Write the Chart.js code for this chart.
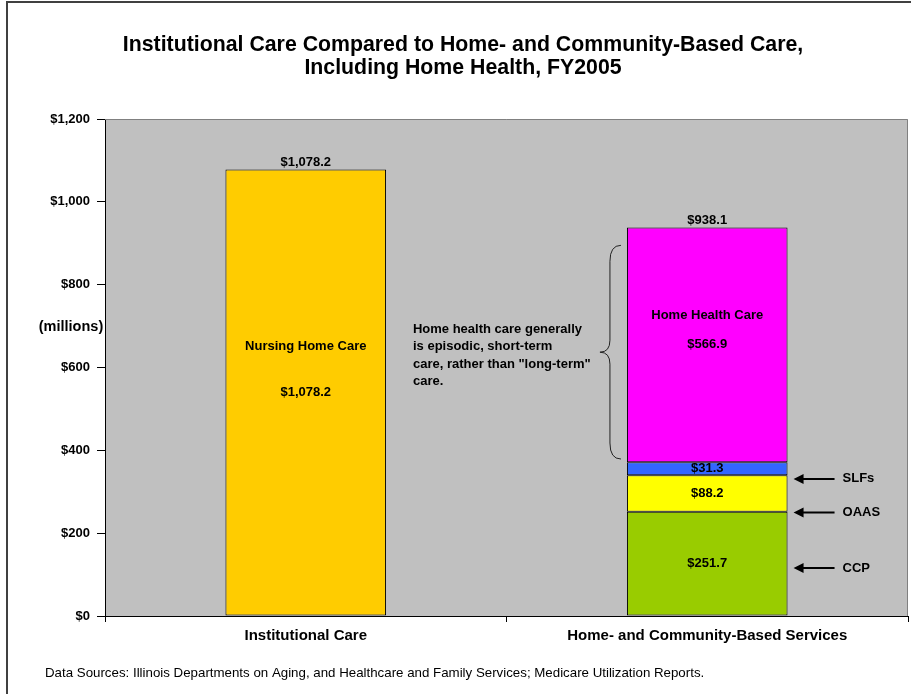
<!DOCTYPE html>
<html>
<head>
<meta charset="utf-8">
<script src="https://cdn.jsdelivr.net/npm/chart.js@4"></script>
<style>
  html, body { margin: 0; padding: 0; background: #fff; }
  #wrap { width: 911px; height: 694px; }
</style>
</head>
<body>
<div id="wrap"><canvas id="chart" width="911" height="694"></canvas></div>
<script>
// FY2005 spending, millions of dollars
var categories = ['Institutional Care', 'Home- and Community-Based Services'];
var nursingHome = [1078.2, null];
var ccp        = [null, 251.7];
var oaas       = [null, 88.2];
var slfs       = [null, 31.3];
var homeHealth = [null, 566.9];
var yTicks = [0, 200, 400, 600, 800, 1000, 1200];

var titleLines = ['Institutional Care Compared to Home- and Community-Based Care,',
                  'Including Home Health, FY2005'];
var noteLines = ['Home health care generally', 'is episodic, short-term',
                 'care, rather than "long-term"', 'care.'];
var sourceText = 'Data Sources: Illinois Departments on Aging, and Healthcare and Family Services; Medicare Utilization Reports.';

var FONT = 'Arial, "Liberation Sans", Helvetica, sans-serif';

function money(v) {
	return '$' + v.toLocaleString('en-US', {minimumFractionDigits: 1, maximumFractionDigits: 1});
}

var datasets = [
	{ label: 'Nursing Home Care', data: nursingHome, backgroundColor: '#FFCC00', name: 'Nursing Home Care', nameDy: -46 },
	{ label: 'CCP',  data: ccp,  backgroundColor: '#99CC00', arrow: 'CCP',  arrowAt: 116 },
	{ label: 'OAAS', data: oaas, backgroundColor: '#FFFF00', arrow: 'OAAS', arrowAt: 250 },
	{ label: 'SLFs', data: slfs, backgroundColor: '#3366FF', arrow: 'SLFs', arrowAt: 331 },
	{ label: 'Home Health Care', data: homeHealth, backgroundColor: '#FF00FF', name: 'Home Health Care', nameDy: -29 }
];
datasets.forEach(function (d) {
	d.borderColor = '#000';
	d.borderWidth = 1;
	d.borderSkipped = false;
	d.barPercentage = 0.4;
	d.categoryPercentage = 1.0;
});

var decor = {
	id: 'decor',
	beforeDraw: function (chart) {
		var ctx = chart.ctx, a = chart.chartArea;
		ctx.save();
		ctx.fillStyle = '#fff';
		ctx.fillRect(0, 0, chart.width, chart.height);
		ctx.fillStyle = '#C0C0C0';
		ctx.fillRect(a.left, a.top, a.right - a.left, a.bottom - a.top);
		ctx.restore();
	},
	afterDatasetsDraw: function (chart) {
		var ctx = chart.ctx, y = chart.scales.y;
		ctx.save();
		ctx.fillStyle = '#000';
		ctx.textAlign = 'center';
		ctx.textBaseline = 'middle';
		ctx.font = 'bold 13px ' + FONT;

		// segment values and names
		categories.forEach(function (c, i) {
			var base = 0, x = null, right = 0, left = 0;
			chart.data.datasets.forEach(function (ds, k) {
				var v = ds.data[i];
				if (v == null) return;
				var bar = chart.getDatasetMeta(k).data[i];
				x = bar.x; left = bar.x - bar.width / 2; right = bar.x + bar.width / 2;
				var mid = (y.getPixelForValue(base) + y.getPixelForValue(base + v)) / 2;
				ctx.fillText(money(v), x, mid);
				if (ds.name) ctx.fillText(ds.name, x, mid + ds.nameDy);
				if (ds.arrow) {
					var ay = y.getPixelForValue(ds.arrowAt);
					ctx.beginPath();
					ctx.lineWidth = 2;
					ctx.moveTo(right + 14, ay);
					ctx.lineTo(right + 47, ay);
					ctx.stroke();
					ctx.beginPath();
					ctx.moveTo(right + 6, ay);
					ctx.lineTo(right + 16, ay - 5);
					ctx.lineTo(right + 16, ay + 5);
					ctx.closePath();
					ctx.fill();
					ctx.textAlign = 'left';
					ctx.fillText(ds.arrow, right + 55, ay);
					ctx.textAlign = 'center';
				}
				base += v;
			});
			// total above the bar
			ctx.fillText(money(base), x, y.getPixelForValue(base) - 7);

			if (i === 1) {
				// brace around the home health segment
				var t = y.getPixelForValue(895), b = y.getPixelForValue(379), m = (t + b) / 2;
				ctx.beginPath();
				ctx.lineWidth = 1;
				ctx.strokeStyle = '#222';
				ctx.moveTo(left - 6, t);
				ctx.quadraticCurveTo(left - 17, t, left - 17, t + 16);
				ctx.lineTo(left - 17, m - 12);
				ctx.quadraticCurveTo(left - 17, m, left - 27, m);
				ctx.quadraticCurveTo(left - 17, m, left - 17, m + 12);
				ctx.lineTo(left - 17, b - 16);
				ctx.quadraticCurveTo(left - 17, b, left - 6, b);
				ctx.stroke();

				ctx.textAlign = 'left';
				noteLines.forEach(function (s, n) {
					ctx.fillText(s, left - 214, m - 23 + n * 17.5);
				});
				ctx.textAlign = 'center';
			}
		});
		ctx.restore();
	},
	afterDraw: function (chart) {
		var ctx = chart.ctx, a = chart.chartArea;
		ctx.save();
		// plot frame
		ctx.strokeStyle = '#808080';
		ctx.lineWidth = 1;
		ctx.beginPath();
		ctx.moveTo(a.left, a.top + 0.5);
		ctx.lineTo(a.right - 0.5, a.top + 0.5);
		ctx.lineTo(a.right - 0.5, a.bottom);
		ctx.stroke();

		// outer chart border
		ctx.strokeStyle = '#404040';
		ctx.lineWidth = 2;
		ctx.beginPath();
		ctx.moveTo(7, chart.height);
		ctx.lineTo(7, 2);
		ctx.lineTo(chart.width, 2);
		ctx.stroke();

		ctx.fillStyle = '#000';
		ctx.textAlign = 'center';
		ctx.textBaseline = 'alphabetic';
		ctx.font = 'bold 21.3px ' + FONT;
		ctx.fillText(titleLines[0], 463, 51);
		ctx.fillText(titleLines[1], 463, 74);

		ctx.textBaseline = 'middle';
		ctx.font = 'bold 14.5px ' + FONT;
		ctx.fillText('(millions)', 71, 327);

		ctx.textAlign = 'left';
		ctx.font = '13.3px ' + FONT;
		ctx.fillText(sourceText, 45, 673);
		ctx.restore();
	}
};

var chart = new Chart(document.getElementById('chart').getContext('2d'), {
	type: 'bar',
	data: { labels: categories, datasets: datasets },
	plugins: [decor],
	options: {
		responsive: false,
		animation: false,
		layout: { padding: { top: 119, right: 3, left: 0, bottom: 0 } },
		plugins: { legend: { display: false }, title: { display: false }, tooltip: { enabled: false } },
		scales: {
			x: {
				stacked: true,
				afterFit: function (s) { s.height = 78; },
				grid: { drawOnChartArea: false, tickLength: 6, color: '#000', offset: true },
				border: { display: true, color: '#000' },
				ticks: { color: '#000', padding: 5, font: { family: FONT, size: 15, weight: 'bold' } }
			},
			y: {
				stacked: true,
				min: 0, max: 1200,
				afterFit: function (s) { s.width = 105; },
				afterBuildTicks: function (s) { s.ticks = yTicks.map(function (v) { return { value: v }; }); },
				grid: { drawOnChartArea: false, tickLength: 8, color: '#000' },
				border: { display: true, color: '#000' },
				ticks: {
					color: '#000', padding: 7,
					font: { family: FONT, size: 13, weight: 'bold' },
					callback: function (v) { return '$' + v.toLocaleString('en-US'); }
				}
			}
		}
	}
});
</script>
</body>
</html>
